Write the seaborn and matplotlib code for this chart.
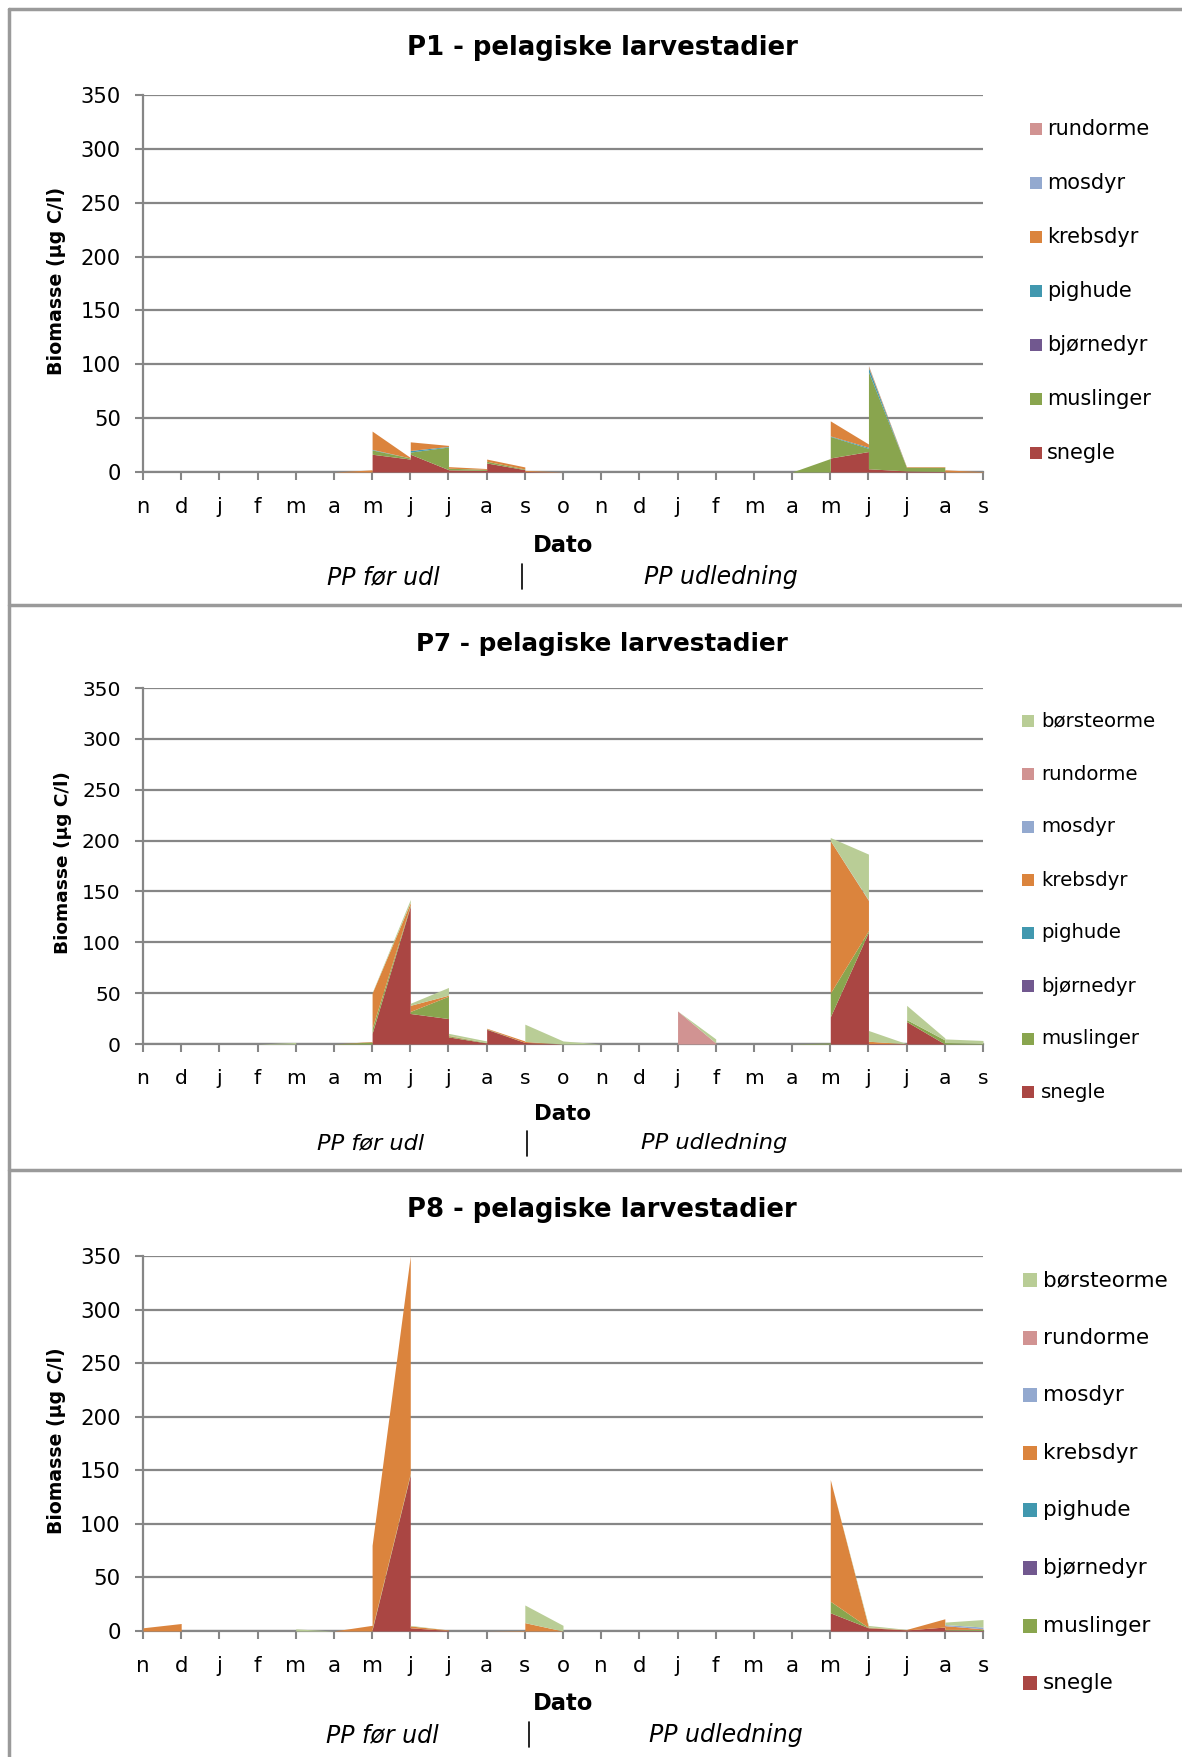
import matplotlib
matplotlib.use("Agg")
import matplotlib.pyplot as plt
from matplotlib.patches import Rectangle
from matplotlib.lines import Line2D
import seaborn as sns

sns.set_theme(style="white")
plt.rcParams["font.family"] = ["DejaVu Sans"]
plt.rcParams["text.color"] = "black"

# ---------------------------------------------------------------- data
month_labels = ["n", "d", "j", "f", "m", "a", "m", "j", "j", "a", "s", "o",
                "n", "d", "j", "f", "m", "a", "m", "j", "j", "a", "s"]

# group name -> colour (stacking order, bottom first)
groups = ["snegle", "muslinger", "bjørnedyr", "pighude", "krebsdyr",
          "mosdyr", "rundorme", "børsteorme"]
group_colors = ["#AA4643", "#89A54E", "#71588F", "#4198AF", "#DB843D",
                "#93A9CF", "#D19392", "#B9CD96"]

# P1 – sample month (index on the month axis) and biomass per group (µg C/l)
p1_month     = [0, 5, 6, 6,    7,  7,    8,   8,   9,   9,   10,  10,  11, 17, 18,   18, 19, 19, 20,  20,  21,  21, 22]
p1_snegle    = [0, 0, 0, 16.5, 12, 16.5, 2.2, 2.0, 1.5, 8.4, 2.2, 0.5, 0,  0,  0,    13, 19, 3,  1.0, 1.0, 0.5, 0,  0]
p1_muslinger = [0, 0, 0, 4,    1,  2,    21,  1.5, 1.0, 1.6, 0.6, 0,   0,  0,  12.5, 20, 3,  90, 3.0, 3.5, 4.0, 0,  0]
p1_bjornedyr = [0, 0, 0, 0,    0,  0,    0,   0,   0,   0,   0,   0,   0,  0,  0,    0,  0,  0,  0,   0,   0,   0,  0]
p1_pighude   = [0, 0, 0, 0.5,  0,  1.5,  0.5, 0,   0,   0,   0,   0,   0,  0,  0,    0.5, 1, 4,  0,   0,   0,   0,  0]
p1_krebsdyr  = [0, 0, 2, 17,   0.5, 8,   1.0, 1.5, 0.7, 2.0, 1.9, 1.0, 0,  0,  0,    14, 3,  1.5, 0.5, 0.5, 0.5, 2, 0.3]
p1_mosdyr    = [0, 0, 0, 0,    0,  0,    0,   0,   0,   0,   0,   0,   0,  0,  0,    0,  0,  0.5, 0,  0,   0,   0,  0]
p1_rundorme  = [0, 0, 0, 0,    0,  0,    0,   0,   0,   0,   0,   0,   0,  0,  0,    0,  0,  0,  0,   0,   0,   0,  0]

# P7
p7_month      = [0, 3, 4,   4, 5, 6,   6,    7,     7,  8,  8,   9,   9,    10,  10,  11, 12, 14, 14,   15,  15, 17, 18,  18,   19,  19,   20,  20, 21,  21,  22]
p7_snegle     = [0, 0, 0,   0, 0, 0,   10.5, 135.5, 30, 25, 7,   1,   14.5, 1.5, 1.5, 0,  0,  0,  0,    0,   0,  0,  0,   26.7, 110, 0.5,  0.3, 22, 0,   0,   0]
p7_muslinger  = [0, 0, 0,   0, 0, 2,   5,    1,     2,  22, 1,   0.5, 0.5,  0,   0,   0,  0,  0,  0,    0,   0,  0,  1.0, 23.3, 1.5, 0,    0,   2,  4,   1.5, 0.5]
p7_bjornedyr  = [0, 0, 0,   0, 0, 0,   0,    0,     0,  0,  0,   0,   0,    0,   0,   0,  0,  0,  0,    0,   0,  0,  0,   0,    0,   0,    0,   0,  0,   0,   0]
p7_pighude    = [0, 0, 0,   0, 0, 0,   0,    0,     0,  0,  0,   0,   0,    0,   0,   0,  0,  0,  0,    0,   0,  0,  0,   0,    0,   0,    0,   0,  0,   0,   0]
p7_krebsdyr   = [0, 0, 0,   0, 0, 0.5, 34.5, 2.5,   6,  1,  0.5, 0,   0.5,  1.5, 1.0, 0,  0,  0,  0,    0,   0,  0,  0,   150,  29.7, 2.2, 0,   0,  0,   0,   0]
p7_mosdyr     = [0, 0, 0,   0, 0, 0,   0,    0,     0,  0,  0,   0,   0,    0,   0,   0,  0,  0,  0,    0,   0,  0,  0,   0,    0.5, 0,    0,   0,  0,   0,   0]
p7_rundorme   = [0, 0, 0,   0, 0, 0,   0,    0,     0,  0,  0,   0,   0,    0,   0,   0,  0,  0,  32.5, 1.0, 0,  0,  0,   0,    0,   0,    0,   0,  0,   0,   0]
p7_borsteorme = [0, 0, 1.5, 0, 0, 0,   0.5,  3,     2,  7.6, 2,  1.5, 0,    0,   17,  3,  0,  0,  0,    4,   0,  0,  0,   3,    45,  10.6, 0,   14, 2,   3.5, 3]

# P8
p8_month      = [0, 1, 1, 4, 4, 5, 6,   6,  7,   7,   8,   8, 9, 10,  10,  11,  11, 17, 18, 18,    19,  20,  20,  21,  21,  22]
p8_snegle     = [0, 0, 0, 0, 0, 0, 0,   1,  146, 3,   0.5, 0, 0, 0,   0,   0,   0,  0,  0,  17,    3,   1,   1,   3.7, 1,   0.5]
p8_muslinger  = [0, 0, 0, 0, 0, 0, 0,   1,  1,   0,   0,   0, 0, 0,   0,   0,   0,  0,  0,  10.8,  0.3, 0,   0,   0,   0.5, 1]
p8_bjornedyr  = [0, 0, 0, 0, 0, 0, 0,   0,  0,   0,   0,   0, 0, 0,   0,   0,   0,  0,  0,  0,     0,   0,   0,   0,   0,   0]
p8_pighude    = [0, 0, 0, 0, 0, 0, 0,   0,  0,   0,   0,   0, 0, 0,   0,   0,   0,  0,  0,  0,     0,   0,   0,   0,   0,   0]
p8_krebsdyr   = [3, 7, 0, 0, 0, 0, 5.3, 78, 203, 1.7, 0.5, 0, 0, 0.5, 7.8, 0,   0,  0,  0,  113.6, 0.4, 0.3, 0.5, 7.7, 3.5, 0.5]
p8_mosdyr     = [0, 0, 0, 0, 0, 0, 0,   0,  0,   0,   0,   0, 0, 0,   0,   0,   0,  0,  0,  0,     0,   0,   0,   0,   1,   1.7]
p8_rundorme   = [0, 0, 0, 0, 0, 0, 0,   0,  0,   0,   0,   0, 0, 0,   0,   0,   0,  0,  0,  0,     0,   0,   0,   0,   0,   0]
p8_borsteorme = [0, 0, 0, 0, 2, 0, 0,   0,  0,   0.6, 0,   0, 0, 0,   16.5, 5.3, 0,  0,  0,  0,     1.5, 0.2, 0,   0,   2.3, 7]

y_ticks = [0, 50, 100, 150, 200, 250, 300, 350]

# ---------------------------------------------------------------- layout
W, H = 1182, 1757
fig = plt.figure(figsize=(W / 100, H / 100), dpi=100)
fig.patch.set_facecolor("white")


def fx(x):
    return x / W


def fy(y):
    return 1 - y / H


GRID = "#868686"

panels = [
    dict(title="P1 - pelagiske larvestadier", month=p1_month,
         series=[p1_snegle, p1_muslinger, p1_bjornedyr, p1_pighude,
                 p1_krebsdyr, p1_mosdyr, p1_rundorme],
         box=(143, 95, 983, 472), title_y=48, title_fs=18.7,
         ylab_x=57, ylab_fs=13.7, tick_fs=15.2, dato_y=546, dato_fs=16.3,
         pp=(383, 522, 721, 577, 564, 589), pp_fs=17,
         leg_x=1036, leg_tx=1047, leg_y0=129, leg_dy=54, leg_fs=15, leg_sq=12),
    dict(title="P7 - pelagiske larvestadier", month=p7_month,
         series=[p7_snegle, p7_muslinger, p7_bjornedyr, p7_pighude,
                 p7_krebsdyr, p7_mosdyr, p7_rundorme, p7_borsteorme],
         box=(143, 688, 983, 1044), title_y=644, title_fs=17.7,
         ylab_x=63, ylab_fs=13.3, tick_fs=14.6, dato_y=1114, dato_fs=15.4,
         pp=(371, 527, 714, 1143, 1131, 1156), pp_fs=16.2,
         leg_x=1028, leg_tx=1041, leg_y0=721, leg_dy=53, leg_fs=14.2, leg_sq=12),
    dict(title="P8 - pelagiske larvestadier", month=p8_month,
         series=[p8_snegle, p8_muslinger, p8_bjornedyr, p8_pighude,
                 p8_krebsdyr, p8_mosdyr, p8_rundorme, p8_borsteorme],
         box=(143, 1256, 983, 1631), title_y=1210, title_fs=18.6,
         ylab_x=57, ylab_fs=13.6, tick_fs=15.4, dato_y=1704, dato_fs=16.3,
         pp=(382, 529, 726, 1735, 1722, 1747), pp_fs=17,
         leg_x=1030, leg_tx=1043, leg_y0=1280, leg_dy=57.6, leg_fs=15.5, leg_sq=14),
]

for p in panels:
    x0, y0, x1, y1 = p["box"]
    ax = fig.add_axes([fx(x0), fy(y1), (x1 - x0) / W, (y1 - y0) / H])
    ax.set_facecolor("white")
    n = len(p["series"])
    ax.stackplot(p["month"], *p["series"], colors=group_colors[:n],
                 linewidth=0, zorder=3)
    ax.set_xlim(0, len(month_labels) - 1)
    ax.set_ylim(0, 350)
    ax.set_yticks(y_ticks)
    ax.set_xticks(range(len(month_labels)))
    ax.set_xticklabels(month_labels)
    ax.yaxis.grid(True, color=GRID, linewidth=1.6, zorder=1)
    ax.xaxis.grid(False)
    ax.set_axisbelow(True)
    for side in ("top", "right"):
        ax.spines[side].set_visible(False)
    for side in ("left", "bottom"):
        ax.spines[side].set_visible(True)
        ax.spines[side].set_color(GRID)
        ax.spines[side].set_linewidth(1.6)
    ax.tick_params(axis="both", which="major", direction="out", length=6,
                   width=1.5, color=GRID, labelsize=p["tick_fs"],
                   labelcolor="black", bottom=True, left=True)
    ax.tick_params(axis="y", pad=10)
    ax.tick_params(axis="x", pad=12)

    # titles and axis captions
    fig.text(fx(602), fy(p["title_y"]), p["title"], ha="center", va="center",
             fontsize=p["title_fs"], fontweight="bold")
    fig.text(fx(p["ylab_x"]), fy((y0 + y1) / 2 - 3), "Biomasse (µg C/l)",
             rotation=90, ha="center", va="center", fontsize=p["ylab_fs"],
             fontweight="bold")
    fig.text(fx(563), fy(p["dato_y"]), "Dato", ha="center", va="center",
             fontsize=p["dato_fs"], fontweight="bold")
    px1, pbar, px2, py_, bar_top, bar_bot = p["pp"]
    fig.text(fx(px1), fy(py_), "PP før udl", ha="center", va="center",
             fontsize=p["pp_fs"], style="italic")
    fig.text(fx(px2), fy(py_), "PP udledning", ha="center", va="center",
             fontsize=p["pp_fs"], style="italic")
    fig.add_artist(Line2D([fx(pbar), fx(pbar)], [fy(bar_top), fy(bar_bot)],
                          color="black", linewidth=1.2,
                          transform=fig.transFigure))

    # legend: top entry is the last stacked group
    names = groups[:n][::-1]
    cols = group_colors[:n][::-1]
    sq = p["leg_sq"]
    for i, (name, col) in enumerate(zip(names, cols)):
        yc = p["leg_y0"] + i * p["leg_dy"]
        fig.add_artist(Rectangle((fx(p["leg_x"] - sq / 2), fy(yc + sq / 2)),
                                 sq / W, sq / H, facecolor=col,
                                 edgecolor="none", transform=fig.transFigure))
        fig.text(fx(p["leg_tx"]), fy(yc), name, ha="left", va="center",
                 fontsize=p["leg_fs"])

# chart frames
FRAME = "#9A9A9A"
for seg in [((9, 9), (9, H)), ((9, W), (9, 9)),
            ((9, W), (605, 605)), ((9, W), (1170, 1170))]:
    xs, ys = seg
    fig.add_artist(Line2D([fx(xs[0]), fx(xs[1])], [fy(ys[0]), fy(ys[1])],
                          color=FRAME, linewidth=2.5,
                          transform=fig.transFigure))

fig.savefig("out.png", dpi=100, facecolor="white")
